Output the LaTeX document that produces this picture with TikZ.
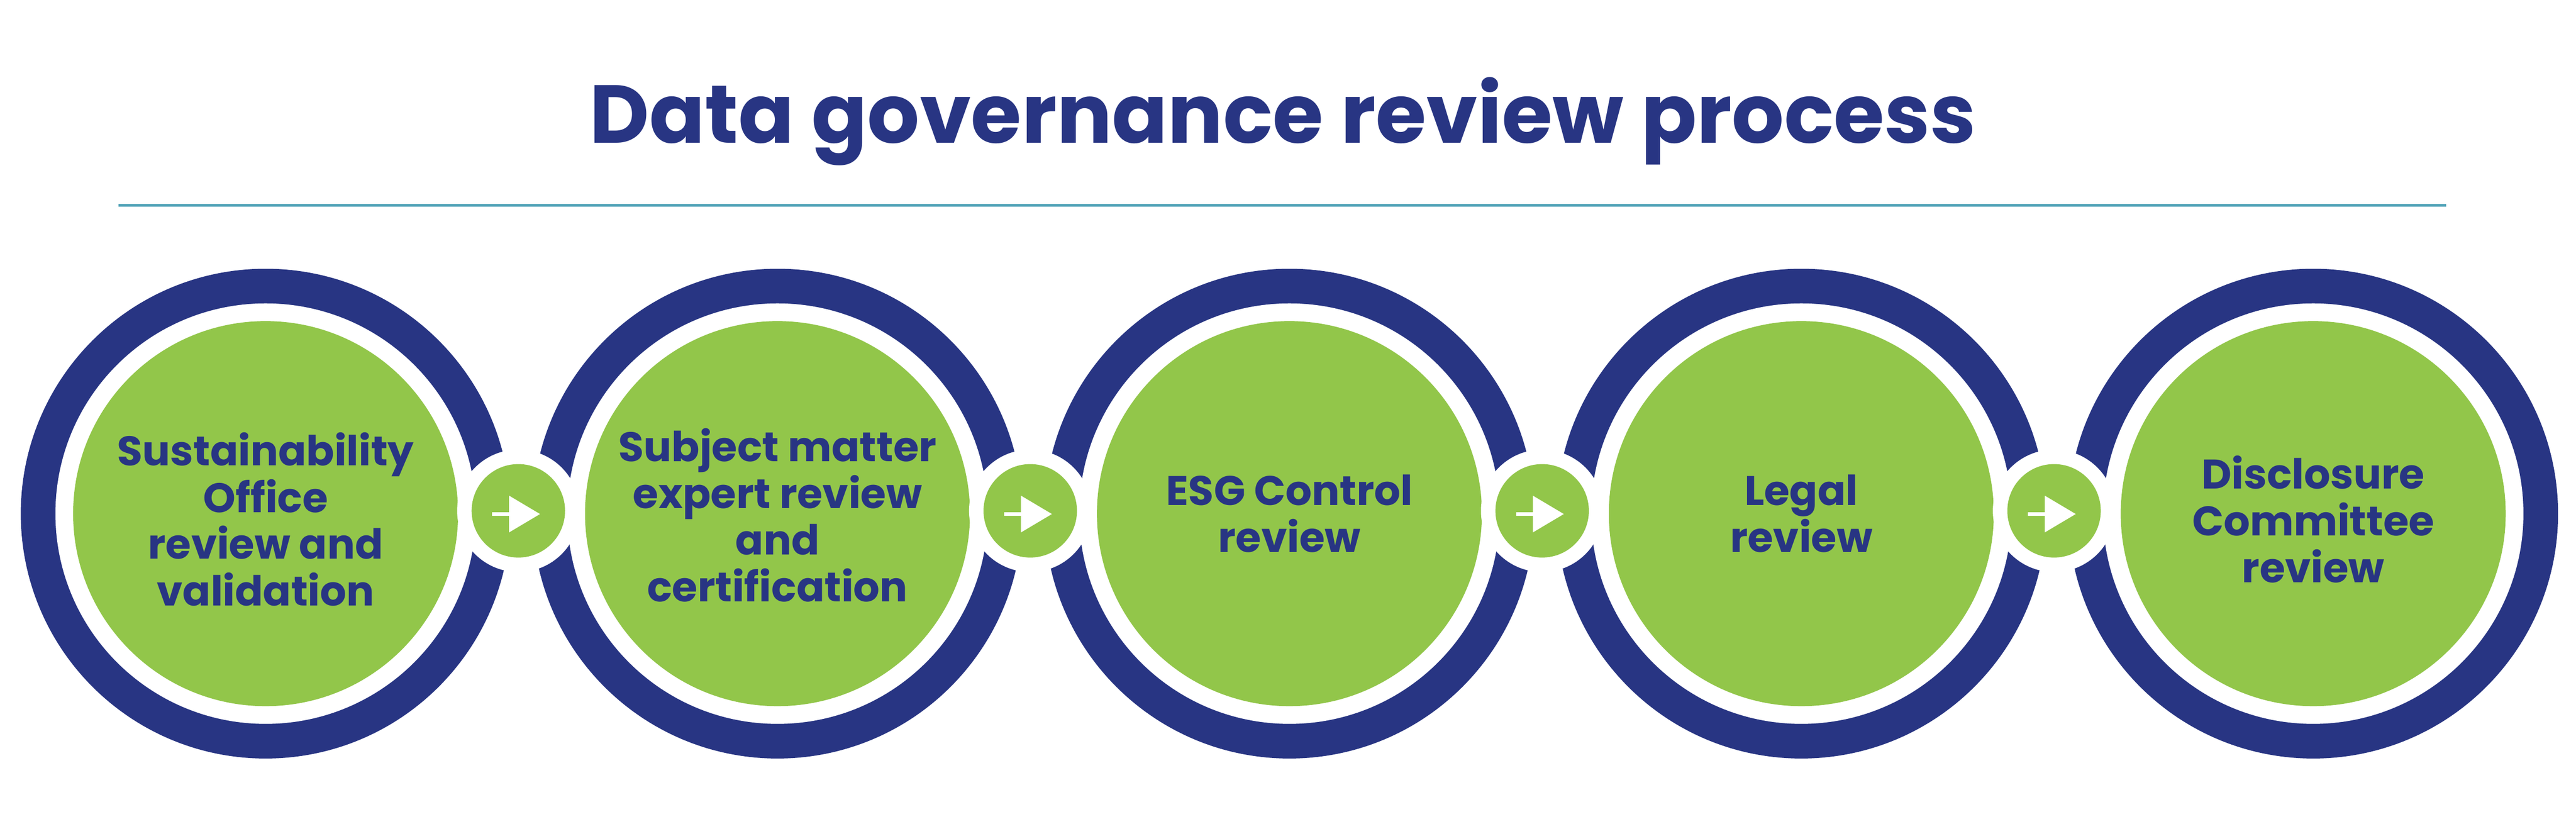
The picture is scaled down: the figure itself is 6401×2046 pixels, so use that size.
\documentclass[tikz,border=0pt]{standalone}
\usepackage{fontspec}
\setmainfont{Poppins}
\usetikzlibrary{arrows.meta}
\definecolor{navy}{RGB}{40,53,131}
\definecolor{leaf}{RGB}{146,198,74}
\definecolor{teal}{RGB}{74,159,181}
\tikzset{
  outerring/.style={circle, fill=navy, minimum size=12.16cm, inner sep=0pt},
  gapring/.style={circle, fill=white, minimum size=10.44cm, inner sep=0pt},
  stepdisc/.style={circle, fill=leaf, minimum size=9.56cm, inner sep=0pt},
  steptext/.style={align=center, text=navy, font=\fontsize{29.2}{33}\selectfont\bfseries},
  whitedisc/.style={circle, fill=white, minimum size=3.04cm, inner sep=0pt},
  arrowdisc/.style={circle, fill=leaf, minimum size=2.32cm, inner sep=0pt},
  flowarrow/.style={draw=white, line width=0.09cm, -{Triangle[length=0.77cm, width=0.89cm]}},
}
\begin{document}
\begin{tikzpicture}[x=0.01cm, y=-0.01cm]
\useasboundingbox (0,0) rectangle (6401,2046);
\fill[white] (0,0) rectangle (6401,2046);
\node[anchor=base, text=navy, font=\fontsize{58}{70}\selectfont\bfseries, inner sep=0pt] (title) at (3188,355) {Data governance review process};
\coordinate (ruleL) at (294,510);
\coordinate (ruleR) at (6078,510);
\draw[teal, line width=0.07cm] (ruleL) -- (ruleR);
\foreach \i/\x in {1/660, 2/1932, 3/3204, 4/4476, 5/5748} {
  \node[outerring] (o\i) at (\x,1276) {};
  \node[gapring] (g\i) at (\x,1276) {};
}
\node[stepdisc] (s1) at (660,1276) {};
\node[stepdisc] (s2) at (1932,1276) {};
\node[stepdisc] (s3) at (3204,1276) {};
\node[stepdisc] (s4) at (4476,1276) {};
\node[stepdisc] (s5) at (5748,1276) {};
\node[steptext] (t1) at (660,1290) {Sustainability\\Office\\review and\\validation};
\node[steptext] (t2) at (1932,1280) {Subject matter\\expert review\\and\\certification};
\node[steptext] (t3) at (3204,1276) {ESG Control\\review};
\node[steptext] (t4) at (4476,1276) {Legal\\review};
\node[steptext] (t5) at (5748,1290) {Disclosure\\Committee\\review};
\foreach \i/\x in {1/1288, 2/2560, 3/3832, 4/5104} {
  \node[whitedisc] (w\i) at (\x,1269) {};
  \node[arrowdisc] (a\i) at (\x,1269) {};
  \coordinate (as\i) at (\x-65,1277);
  \coordinate (ae\i) at (\x+54,1277);
  \draw[flowarrow] (as\i) -- (ae\i);
}
\end{tikzpicture}
\end{document}
